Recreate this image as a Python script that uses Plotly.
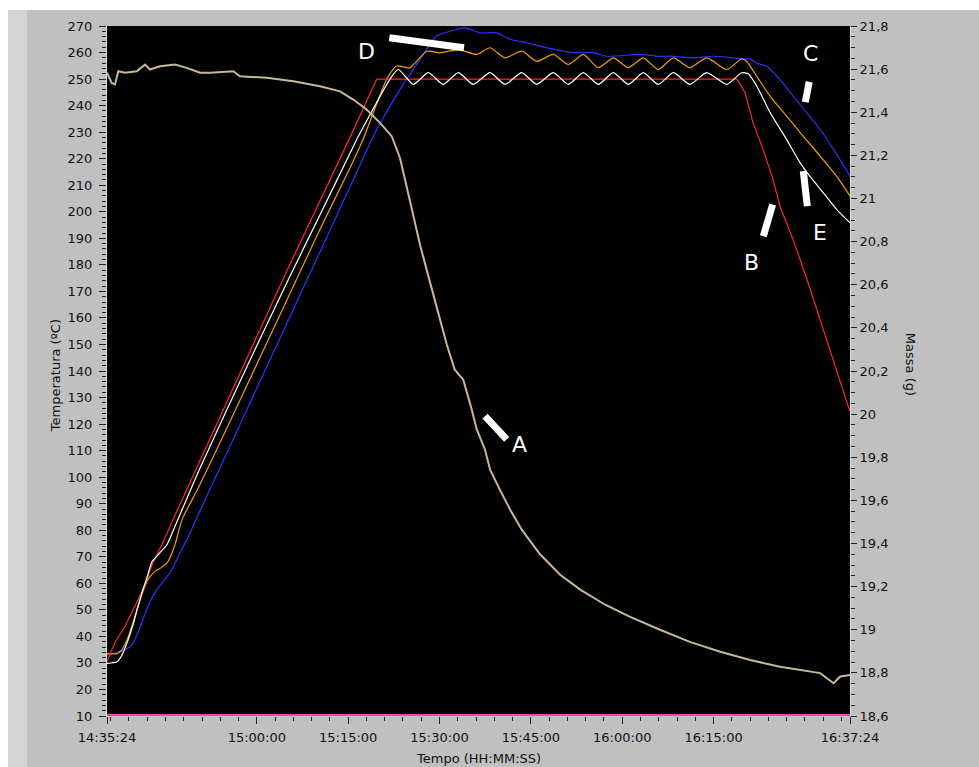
import pandas as pd
import plotly.graph_objects as go

# ---------------- data (minutes elapsed since 14:35:24) ----------------
START = "2000-01-01 14:35:24"

# B - setpoint (red), temperature ºC
red_t = [0, 1.31, 2.96, 4.27, 5.91, 7.55, 9.03, 10.84, 15, 20, 25, 30, 35, 40, 44.29,
         60, 80, 103.4, 104.76, 106.08, 107.72, 109.36, 110.51, 112.64, 114.94, 122.0]
red_v = [30.5, 37.7, 43.8, 50.0, 57.7, 67.8, 74.6, 84.0, 105, 130, 155, 180, 204, 228.5, 250,
         250, 250, 250, 245, 233.6, 223.5, 212.2, 202, 189.6, 174.5, 124.7]

# E (white)
white_t = [0, 1.64, 2.46, 3.45, 4.27, 5.09, 5.91, 6.57, 7.39, 7.88, 8.7, 9.85, 11.17,
           15, 20, 25, 30, 35, 40, 41.0, 46.47,
           47.83, 50.3, 52.76, 55.2, 57.68, 60.15, 62.89, 65.35, 68.1, 70.56, 73.28, 75.75,
           78.21, 80.67, 83.14, 85.6, 88.06, 90.5, 92.99, 95.7, 98.47, 101.76, 104.2,
           105.3, 106.7, 108.9, 111.6, 113.8, 115.4, 117.6, 119.8, 122.0]
white_v = [29.8, 30.4, 33.0, 38.6, 44.3, 51.3, 57.7, 62.2, 68.2, 69.4, 71.6, 74.6, 81.5,
           102, 127, 151.5, 175.5, 199, 222.5, 227.2, 250,
           253.6, 248, 252.4, 248, 252.4, 248, 252.4, 248, 252.4, 248, 252.4, 248,
           252.4, 248, 252.4, 248, 252.4, 248, 252.4, 248, 252.4, 248, 252.4,
           252, 247.3, 237.3, 227.2, 218.5, 213.4, 207.2, 200.9, 195.8]

# D (orange)
orange_t = [0, 1.64, 2.46, 3.45, 4.27, 5.09, 5.91, 6.73, 7.88, 9.03, 10.02, 11.17, 12.32,
            15, 20, 25, 30, 35, 40, 42.04, 45.9, 47.57, 49.75, 52.5, 54.7, 56.3, 57.96, 60.7,
            62.89, 65.35, 68.1, 70.56, 73.28, 75.75, 78.21, 80.67, 83.14, 85.6, 88.06, 90.5,
            92.99, 95.7, 98.47, 101.76, 104.2, 105.0, 106.7, 108.9, 111.6, 114.3, 117.1,
            119.8, 122.0]
orange_v = [33.5, 33.5, 35.0, 39.6, 45.3, 51.3, 57.0, 61.5, 64.5, 66.1, 68.2, 74.6, 84.0,
            96, 120, 144.5, 169, 193.5, 217, 227.2, 249.8, 254.9, 254.3, 260.5, 259.9, 260.6,
            261, 259.3, 261.8, 258, 260.5, 256.7, 259.3, 255.5, 259.3, 254.3, 258, 254.3,
            258, 253.6, 258, 254.3, 258, 253.6, 257.6, 256.7, 251, 243.5, 236, 228.5, 221,
            213.4, 205.9]

# C (blue)
blue_t = [0, 1.64, 2.96, 4.1, 4.93, 5.91, 7.06, 8.21, 9.52, 10.67, 11.99, 13.3, 14.61,
          20, 25, 30, 35, 40, 43.46, 44.29, 48.1, 51.4, 54.1, 56.3, 58.8, 61.25, 64, 66.2,
          68.9, 71.1, 73.8, 76.5, 79.8, 82.05, 87.5, 90.3, 92.9, 96.2, 99.5, 102.8, 104.4,
          105.6, 106.7, 108.3, 110.5, 112.7, 114.9, 117.1, 119.3, 122.0]
blue_v = [33, 34, 35, 36.8, 40.6, 46.4, 53.1, 57.7, 61.5, 65.2, 71.6, 77.3, 84,
          110.7, 135.5, 160.3, 185, 209.9, 227.2, 231, 246, 257.4, 266.2, 268, 269.3, 267.4,
          267.4, 265, 263.7, 262.4, 261, 260, 260, 258.6, 259.3, 258.6, 258.6, 258, 258.6,
          258, 257.6, 257.6, 256, 254.9, 249.8, 243.5, 237.3, 231, 223.5, 213.4]

# bottom channel (pink)
pink_t = [0, 122.0]
pink_v = [10.4, 10.4]

# A - mass (g), right axis
mass_t = [0, 0.77, 1.31, 1.86, 2.96, 4.88, 6.24, 7.06, 8.7, 11.17, 13.09, 15.27, 16.91,
          20.74, 21.84, 26.22, 30.59, 34.98, 38.26, 40.44, 42.64, 44.83, 46.75, 48.11,
          48.93, 50.08, 51.4, 52.7, 54.2, 55.8, 57.1, 58.5, 59.9, 60.7, 62.07, 62.9, 64.5,
          66.2, 68.1, 71.1, 74.4, 77.7, 81.8, 85.9, 90.8, 95.7, 100.7, 105.6, 110.5,
          115.4, 117.1, 119.3, 120.4, 122.0]
mass_v = [21.583, 21.536, 21.529, 21.59, 21.583, 21.59, 21.621, 21.598, 21.613, 21.621,
          21.606, 21.583, 21.583, 21.59, 21.567, 21.56, 21.544, 21.521, 21.497, 21.459,
          21.413, 21.351, 21.289, 21.188, 21.088, 20.948, 20.786, 20.647, 20.484, 20.322,
          20.206, 20.16, 20.02, 19.93, 19.835, 19.742, 19.65, 19.557, 19.464, 19.35,
          19.255, 19.186, 19.116, 19.06, 19.0, 18.944, 18.898, 18.86, 18.828, 18.805,
          18.799, 18.752, 18.783, 18.79]

# axis ticks
temp_ticks = list(range(10, 271, 10))
mass_ticks = [round(18.6 + 0.2 * i, 1) for i in range(17)]
time_major = ["14:35:24", "14:45:00", "15:00:00", "15:15:00", "15:30:00", "15:45:00",
              "16:00:00", "16:15:00", "16:30:00", "16:37:24"]
time_labels = ["14:35:24", "", "15:00:00", "15:15:00", "15:30:00", "15:45:00",
               "16:00:00", "16:15:00", "", "16:37:24"]

# annotation marks: (label, bar start t, bar start T, bar end t, bar end T, text t, text T)
marks = [
    ("A", 62.07, 123.0, 65.63, 114.2, 67.65, 112.3),
    ("B", 109.3, 202.7, 107.77, 190.8, 105.86, 180.8),
    ("C", 115.3, 249.0, 114.66, 241.3, 115.53, 259.6),
    ("D", 46.35, 265.6, 58.62, 261.8, 42.53, 260.3),
    ("E", 114.33, 215.3, 114.99, 202.1, 117.08, 192.1),
]

# ---------------- build ----------------
base = pd.Timestamp(START)


def tx(mins):
    return [base + pd.Timedelta(minutes=m) for m in mins]


def clock(s):
    return pd.Timestamp("2000-01-01 " + s)


FONT = "DejaVu Sans"
fig = go.Figure()

fig.add_trace(go.Scatter(x=tx(pink_t), y=pink_v, mode="lines",
                         line=dict(color="#FF3EA8", width=2), showlegend=False))
fig.add_trace(go.Scatter(x=tx(mass_t), y=mass_v, yaxis="y2", mode="lines",
                         line=dict(color="#C8B898", width=2), showlegend=False))
fig.add_trace(go.Scatter(x=tx(blue_t), y=blue_v, mode="lines",
                         line=dict(color="#3030FF", width=1.2, shape="spline", smoothing=0.6),
                         showlegend=False))
fig.add_trace(go.Scatter(x=tx(orange_t), y=orange_v, mode="lines",
                         line=dict(color="#F0A000", width=1.2, shape="spline", smoothing=0.6),
                         showlegend=False))
fig.add_trace(go.Scatter(x=tx(red_t), y=red_v, mode="lines",
                         line=dict(color="#FF2828", width=1.2), showlegend=False))
fig.add_trace(go.Scatter(x=tx(white_t), y=white_v, mode="lines",
                         line=dict(color="#FFFFFF", width=1.2, shape="spline", smoothing=0.6),
                         showlegend=False))

shapes = [
    # panel decorations
    dict(type="rect", xref="paper", yref="paper", x0=-0.16, x1=1.2, y0=1.0232, y1=1.05,
         fillcolor="#FFFFFF", line_width=0, layer="below"),
    dict(type="rect", xref="paper", yref="paper", x0=-0.16, x1=-0.1332, y0=-0.1, y1=1.0232,
         fillcolor="#FFFFFF", line_width=0, layer="below"),
    dict(type="rect", xref="paper", yref="paper", x0=-0.1332, x1=-0.1077, y0=-0.1, y1=1.0232,
         fillcolor="#D6D6D6", line_width=0, layer="below"),
]
annotations = []
for lab, t0, v0, t1, v1, tt, tv in marks:
    shapes.append(dict(type="line", xref="x", yref="y",
                       x0=base + pd.Timedelta(minutes=t0), y0=v0,
                       x1=base + pd.Timedelta(minutes=t1), y1=v1,
                       line=dict(color="white", width=7)))
    annotations.append(dict(x=base + pd.Timedelta(minutes=tt), y=tv, xref="x", yref="y",
                            text=lab, showarrow=False, xanchor="center", yanchor="middle",
                            font=dict(family=FONT, size=22, color="white")))

annotations += [
    dict(xref="paper", yref="paper", x=-0.07, y=0.494, text="Temperatura (ºC)",
         textangle=-90, showarrow=False, xanchor="center", yanchor="middle",
         font=dict(family=FONT, size=13, color="#111")),
    dict(xref="paper", yref="paper", x=1.0807, y=0.509, text="Massa (g)",
         textangle=90, showarrow=False, xanchor="center", yanchor="middle",
         font=dict(family=FONT, size=13, color="#111")),
    dict(xref="paper", yref="paper", x=0.5, y=-0.0609, text="Tempo (HH:MM:SS)",
         showarrow=False, xanchor="center", yanchor="middle",
         font=dict(family=FONT, size=13, color="#111")),
]

mass_text = []
for v in mass_ticks:
    s = f"{v:.1f}"
    if s.endswith(".0"):
        s = s[:-2]
    mass_text.append(s.replace(".", ","))

fig.update_layout(
    width=979, height=767,
    margin=dict(l=107, r=129, t=26, b=51),
    paper_bgcolor="#C0C0C0",
    plot_bgcolor="#000000",
    font=dict(family=FONT, size=13, color="#111"),
    separators=",.",
    showlegend=False,
    shapes=shapes,
    annotations=annotations,
    xaxis=dict(
        type="date",
        range=[base, base + pd.Timedelta(minutes=122)],
        tickmode="array",
        tickvals=[clock(s) for s in time_major],
        ticktext=time_labels,
        ticks="outside", ticklen=7, tickcolor="#222", tickwidth=1,
        ticklabelstandoff=2,
        minor=dict(tickmode="array",
                   tickvals=[clock("14:36:00") + pd.Timedelta(minutes=3 * i) for i in range(41)],
                   ticks="outside", ticklen=4, tickcolor="#222", showgrid=False),
        showgrid=False, zeroline=False,
        showline=True, linecolor="#C0C0C0", linewidth=1,
        tickfont=dict(family=FONT, size=13, color="#111"),
    ),
    yaxis=dict(
        range=[10, 270],
        tickmode="array", tickvals=temp_ticks,
        ticks="outside", ticklen=7, tickcolor="#222",
        ticklabelstandoff=4,
        minor=dict(dtick=2, tick0=10, ticks="outside", ticklen=4, tickcolor="#222",
                   showgrid=False),
        showgrid=False, zeroline=False,
        showline=True, linecolor="#E0E0E0", linewidth=1,
        tickfont=dict(family=FONT, size=13, color="#111"),
    ),
    yaxis2=dict(
        range=[18.6, 21.8], overlaying="y", side="right",
        tickmode="array", tickvals=mass_ticks, ticktext=mass_text,
        ticks="outside", ticklen=6, tickcolor="#222",
        minor=dict(dtick=0.05, tick0=18.6, ticks="outside", ticklen=4, tickcolor="#222",
                   showgrid=False),
        showgrid=False, zeroline=False,
        showline=True, linecolor="#E0E0E0", linewidth=1,
        tickfont=dict(family=FONT, size=13, color="#111"),
    ),
)

fig.write_html("out.html")
